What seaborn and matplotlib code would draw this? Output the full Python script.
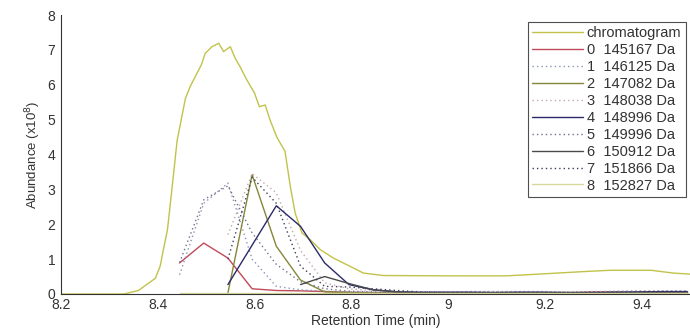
import numpy as np
import pandas as pd
import matplotlib
matplotlib.use("Agg")
import matplotlib.pyplot as plt
import seaborn as sns

# ---- data ----
chrom_t = [8.20, 8.27, 8.33, 8.36, 8.38, 8.395, 8.405, 8.412, 8.42, 8.43, 8.44, 8.457,
           8.467, 8.48, 8.49, 8.498, 8.512, 8.526, 8.536, 8.55, 8.56, 8.57, 8.584, 8.60,
           8.61, 8.622, 8.632, 8.646, 8.663, 8.674, 8.684, 8.698, 8.715, 8.736, 8.763,
           8.798, 8.825, 8.866, 9.0, 9.12, 9.2, 9.29, 9.335, 9.42, 9.465, 9.5]
chrom_v = [0.0, 0.0, 0.0, 0.1, 0.3, 0.45, 0.8, 1.3, 1.84, 3.1, 4.4, 5.6,
           5.95, 6.3, 6.57, 6.9, 7.09, 7.19, 6.95, 7.09, 6.76, 6.52, 6.14, 5.76,
           5.37, 5.42, 4.99, 4.5, 4.09, 3.08, 2.32, 1.75, 1.56, 1.27, 1.03,
           0.79, 0.6, 0.53, 0.52, 0.52, 0.58, 0.65, 0.68, 0.68, 0.6, 0.57]

grid_t = [8.445, 8.495, 8.545, 8.595, 8.645, 8.695, 8.745, 8.795, 8.845, 8.895, 8.945,
          8.995, 9.045, 9.095, 9.145, 9.195, 9.245, 9.295, 9.345, 9.395, 9.445, 9.495]
N = None
comp0 = [0.89, 1.46, 1.03, 0.15, 0.10, 0.09, 0.07, 0.05, 0.04, 0.03, 0.02,
         0.02, 0.02, 0.02, 0.02, 0.02, 0.03, 0.06, 0.06, 0.03, 0.02, 0.02]
comp1 = [0.55, 2.60, 3.18, 1.00, 0.22, 0.12, 0.08, 0.06, 0.05, 0.04, 0.04,
         0.05, 0.07, 0.07, 0.07, 0.07, 0.05, 0.06, 0.07, 0.08, 0.08, 0.08]
comp2 = [N, N, 0.03, 3.42, 1.37, 0.40, 0.06, 0.04, 0.03, 0.02, 0.02,
         0.02, 0.02, 0.02, 0.02, 0.02, 0.02, 0.02, 0.02, 0.02, 0.02, 0.02]
comp3 = [N, N, 1.70, 3.45, 2.90, 1.25, 0.32, 0.15, 0.10, 0.07, 0.06,
         0.06, 0.06, 0.06, 0.06, 0.06, 0.06, 0.07, 0.08, 0.09, 0.09, 0.09]
comp4 = [N, N, 0.27, 1.40, 2.53, 1.94, 0.89, 0.27, 0.12, 0.06, 0.05,
         0.05, 0.05, 0.04, 0.05, 0.05, 0.04, 0.04, 0.05, 0.06, 0.07, 0.07]
comp5 = [0.90, 2.70, 3.10, 1.75, 0.85, 0.35, 0.15, 0.08, 0.06, 0.05, 0.04,
         0.04, 0.04, 0.04, 0.04, 0.04, 0.04, 0.04, 0.04, 0.05, 0.05, 0.05]
comp6 = [N, N, N, N, N, 0.27, 0.50, 0.30, 0.12, 0.06, 0.03,
         0.03, 0.03, 0.03, 0.03, 0.03, 0.03, 0.03, 0.02, 0.02, 0.03, 0.03]
comp7 = [N, N, 1.00, 3.35, 2.60, 0.80, 0.22, 0.20, 0.15, 0.10, 0.06,
         0.05, 0.05, 0.05, 0.05, 0.05, 0.05, 0.05, 0.05, 0.06, 0.06, 0.06]
comp8 = [0.02, 0.02, 0.02, 0.02, 0.02, 0.02, 0.02, 0.02, 0.02, 0.02, 0.02,
         0.02, 0.02, 0.02, 0.02, 0.02, 0.02, 0.02, 0.02, 0.02, 0.02, 0.02]

labels = ["chromatogram", "0  145167 Da", "1  146125 Da", "2  147082 Da",
          "3  148038 Da", "4  148996 Da", "5  149996 Da", "6  150912 Da",
          "7  151866 Da", "8  152827 Da"]
x_ticks = [8.2, 8.4, 8.6, 8.8, 9.0, 9.2, 9.4]
x_tick_labels = ["8.2", "8.4", "8.6", "8.8", "9", "9.2", "9.4"]
y_ticks = [0, 1, 2, 3, 4, 5, 6, 7, 8]

# ---- styles ----
colors = ["#c2c24a", "#c04a58", "#8a94b4", "#86863a", "#c4a8a8", "#2a2a6a",
          "#707090", "#4a4a4a", "#3c3c5c", "#d8d89a"]
dot = (0, (1, 2.2))
styles = ["-", "-", dot, "-", dot, "-", dot, "-", dot, "-"]

sns.set_style("white")
plt.rcParams['font.family'] = ['Liberation Sans', 'DejaVu Sans']

fig = plt.figure(figsize=(6.9, 3.29), dpi=100)
ax = fig.add_axes([0.0884, 0.1064, 0.9116, 0.848])

series = [(chrom_t, chrom_v)]
for comp in [comp0, comp1, comp2, comp3, comp4, comp5, comp6, comp7, comp8]:
    series.append((grid_t, comp))

for (t, v), lab, c, ls in zip(series, labels, colors, styles):
    df = pd.DataFrame({"t": t, "v": [np.nan if x is None else x for x in v]}).dropna()
    sns.lineplot(data=df, x="t", y="v", ax=ax, color=c, linestyle=ls,
                 linewidth=1.0, label=lab, sort=False)

ax.set_xlim(8.2, 9.5)
ax.set_ylim(0, 8)
ax.set_xticks(x_ticks)
ax.set_xticklabels(x_tick_labels)
ax.set_yticks(y_ticks)
ax.tick_params(direction="in", length=4, width=0.8, labelsize=10, colors="#333333")
ax.tick_params(axis="y", pad=4)
ax.tick_params(axis="x", pad=3)
for s in ["top", "right"]:
    ax.spines[s].set_visible(False)
for s in ["left", "bottom"]:
    ax.spines[s].set_color("#333333")
    ax.spines[s].set_linewidth(0.8)
ax.set_xlabel("Retention Time (min)", fontsize=10, color="#333333", labelpad=1)
ax.set_ylabel("Abundance (x10$^8$)", fontsize=9.5, color="#333333", labelpad=3)

leg = ax.legend(loc="upper right", bbox_to_anchor=(0.993, 0.975), fontsize=10.5,
                frameon=True, fancybox=False, shadow=False, handlelength=3.5,
                handletextpad=0.25, labelspacing=0.2, borderpad=0.3,
                borderaxespad=0.0)
leg.get_frame().set_edgecolor("#222222")
leg.get_frame().set_linewidth(0.8)
for txt in leg.get_texts():
    txt.set_color("#333333")

fig.savefig("out.png", dpi=100)
